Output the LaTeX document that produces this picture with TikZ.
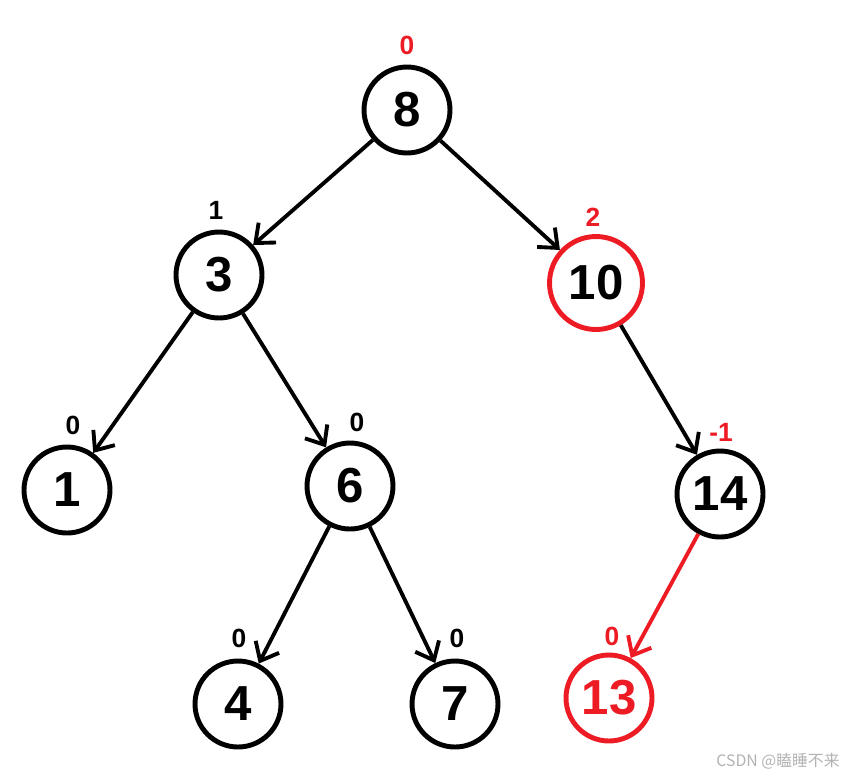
\documentclass[tikz,border=0pt]{standalone}
\usepackage{fontspec}
\setmainfont{Liberation Sans}
\newfontfamily\cjkfont{Noto Sans CJK SC}
\usetikzlibrary{arrows.meta}

\definecolor{avlred}{RGB}{237,28,36}

\tikzset{
  tnode/.style={circle,draw,line width=2.8pt,minimum size=1.72cm,inner sep=0pt,
    font=\fontsize{28}{28}\selectfont\bfseries},
  bf/.style={font=\fontsize{15}{15}\selectfont\bfseries,inner sep=0pt},
  edge/.style={line width=2.2pt,-{Straight Barb[length=9pt,width=15pt,line width=2.2pt]}},
}

\begin{document}
\begin{tikzpicture}[x=0.02cm,y=-0.02cm]
  \useasboundingbox (0,0) rectangle (848,778);
  % tree nodes
  \node[tnode] (n8) at (407,110) {8};
  \node[tnode] (n3) at (219,275) {3};
  \node[tnode,draw=avlred,minimum size=1.86cm] (n10) at (596,283) {10};
  \node[tnode] (n1) at (67,490) {1};
  \node[tnode] (n6) at (350,486) {6};
  \node[tnode] (n14) at (720,494) {14};
  \node[tnode] (n4) at (238,704) {4};
  \node[tnode] (n7) at (455,704) {7};
  \node[tnode,draw=avlred,text=avlred] (n13) at (609,698) {13};
  % balance factors
  \node[bf,text=avlred] (b8) at (407,45) {0};
  \node[bf] (b3) at (216,210) {1};
  \node[bf,text=avlred] (b10) at (593,217) {2};
  \node[bf] (b1) at (73,425) {0};
  \node[bf] (b6) at (357,422) {0};
  \node[bf,text=avlred] (b14) at (721,432) {-1};
  \node[bf] (b4) at (239,638) {0};
  \node[bf] (b7) at (457,638) {0};
  \node[bf,text=avlred] (b13) at (612,636) {0};
  % edges
  \draw[edge] (n8) -- (n3);
  \draw[edge] (n8) -- (n10);
  \draw[edge] (n3) -- (n1);
  \draw[edge] (n3) -- (n6);
  \draw[edge] (n10) -- (n14);
  \draw[edge] (n6) -- (n4);
  \draw[edge] (n6) -- (n7);
  \draw[edge,avlred] (n14) -- (n13);
  % watermark
  \node[text=gray!60,font=\cjkfont\fontsize{9}{9}\selectfont] (wm) at (778,761) {CSDN @瞌睡不来};
\end{tikzpicture}
\end{document}
